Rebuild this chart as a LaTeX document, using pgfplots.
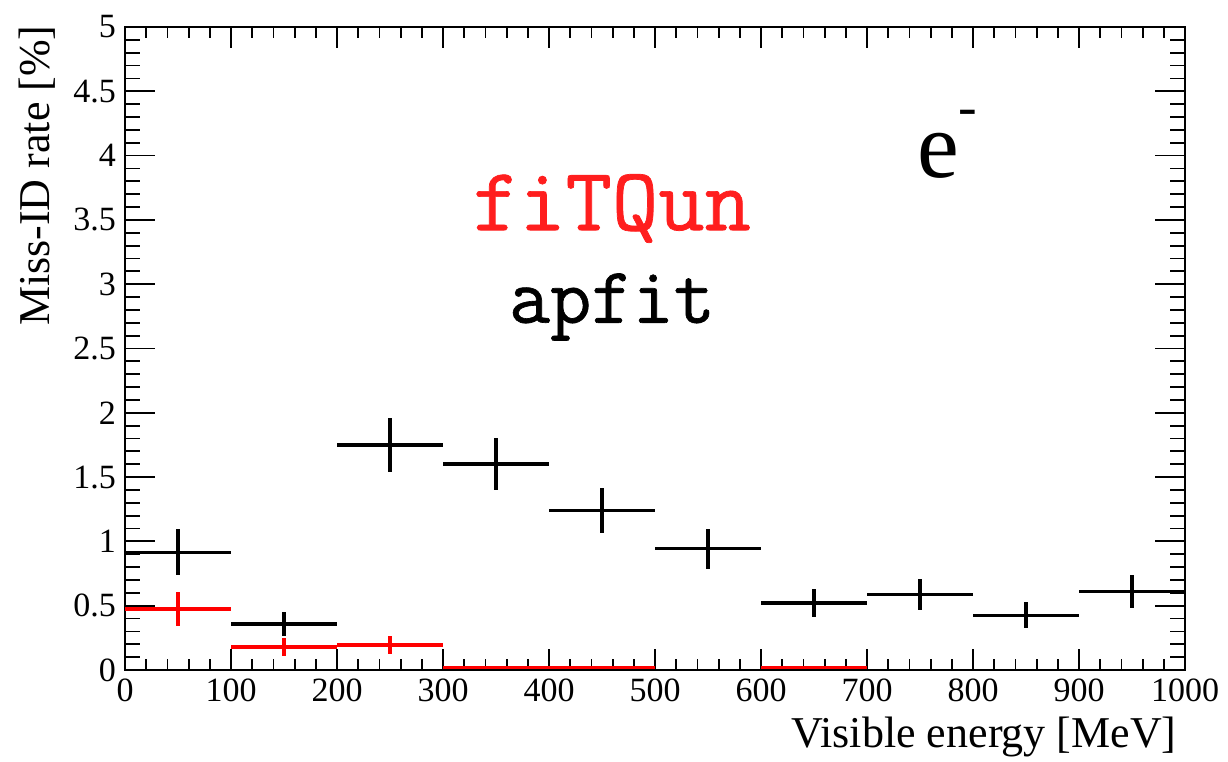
\documentclass[border=0pt]{standalone}
\usepackage{fontspec}
\setmainfont{Liberation Serif}
\newfontfamily\twfont[FakeBold=0.8]{Latin Modern Mono}
\usepackage{pgfplots}
\pgfplotsset{compat=1.18}
\usepackage{pgfplotstable}
\definecolor{rootred}{RGB}{255,0,0}
\definecolor{textred}{RGB}{255,30,30}

\pgfplotstableread{
x y ex ey
50 0.915 50 0.18
150 0.358 50 0.096
250 1.751 50 0.21
350 1.601 50 0.20
450 1.241 50 0.175
550 0.943 50 0.155
650 0.522 50 0.109
750 0.587 50 0.121
850 0.424 50 0.101
950 0.610 50 0.13
}\apfit

\pgfplotstableread{
x y ex ey
50 0.474 50 0.133
150 0.179 50 0.067
250 0.194 50 0.07
350 0.02 50 0.012
450 0.02 50 0.012
650 0.02 50 0.012
}\fitqun

\begin{document}
\begin{tikzpicture}
\begin{axis}[
  scale only axis,
  width=530pt, height=321.5pt,
  xmin=0, xmax=1000, ymin=0, ymax=5,
  xtick={0,100,...,1000},
  ytick={0,0.5,...,5},
  minor tick num=4,
  tick align=inside,
  xtick pos=both, ytick pos=both,
  x tick style={line width=0.9pt, black, /pgfplots/major tick length=10.5pt, /pgfplots/minor tick length=5.5pt},
  y tick style={line width=0.9pt, black, /pgfplots/major tick length=15pt, /pgfplots/minor tick length=7.5pt},
  axis line style={line width=1.2pt},
  tick label style={font=\fontsize{17}{19}\selectfont},
  /pgf/number format/assume math mode=true,
  /pgf/number format/1000 sep={},
  xticklabel style={yshift=-1pt},
  yticklabel style={xshift=-1pt},
  clip=false,
]
\addplot[draw=none, mark=none,
  error bars/.cd, x dir=both, x explicit, y dir=both, y explicit,
  error mark=none, error bar style={draw=black, line width=1.7pt}]
  table[x=x, y=y, x error=ex, y error=ey] {\apfit};
\addplot[draw=none, mark=none,
  error bars/.cd, x dir=both, x explicit, y dir=both, y explicit,
  error mark=none, error bar style={draw=rootred, line width=1.7pt}]
  table[x=x, y=y, x error=ex, y error=ey] {\fitqun};

\node[anchor=base, text=textred, font=\twfont\fontsize{45}{50}\selectfont] at (axis cs:459.4,3.42) {fiTQun};
\node[anchor=base, text=black, font=\twfont\fontsize{40}{44}\selectfont] at (axis cs:459.4,2.70) {apfit};
\node[anchor=base west, inner sep=0pt, font=\fontsize{47}{50}\selectfont] at (axis cs:747,3.83) {e\raisebox{0.55em}{\fontsize{28}{30}\selectfont -}};

\node[anchor=base east, inner sep=0pt, font=\fontsize{22}{24}\selectfont] at ([xshift=-4pt,yshift=-39pt]rel axis cs:1,0) {Visible energy [MeV]};
\node[anchor=base east, inner sep=0pt, rotate=90, font=\fontsize{22}{24}\selectfont] at ([xshift=-37.5pt,yshift=1pt]rel axis cs:0,1) {Miss-ID rate [\%]};
\end{axis}
\path ([shift={(-62.5pt,-46pt)}]current axis.south west) rectangle ([shift={(21.5pt,13.5pt)}]current axis.north east);
\end{tikzpicture}
\end{document}
